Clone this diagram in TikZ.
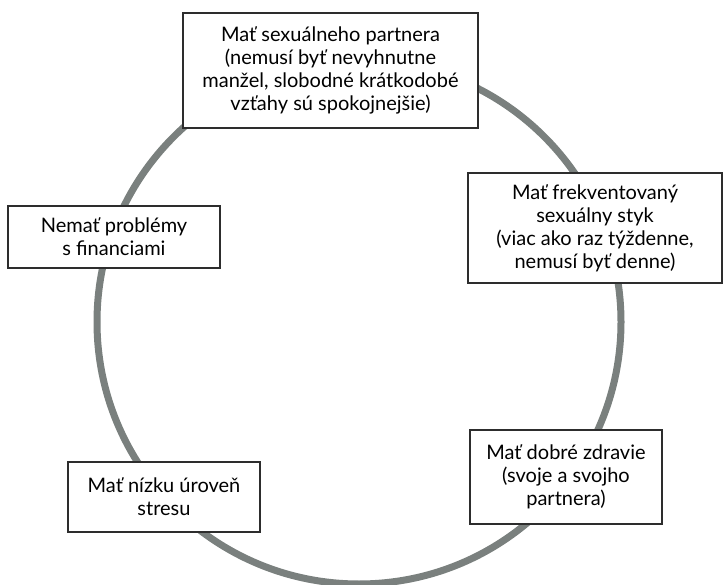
\documentclass[tikz,border=0pt]{standalone}
\usepackage{fontspec}
\setmainfont{Lato}
\usepackage{xcolor}
\definecolor{ColRing}{RGB}{122,128,126}
\definecolor{ColEdge}{RGB}{45,45,45}
\tikzstyle{Ring}=[ColRing,line width=7pt]
\tikzstyle{NodeBox}=[draw=ColEdge,fill=white,line width=1.3pt,inner sep=2pt,
align=center,font=\fontsize{20}{23}\selectfont]

\begin{document}
\begin{tikzpicture}[x=1pt,y=-1pt]
        \useasboundingbox(0,0)rectangle(723,585);
        \draw[Ring](359,322)circle[radius=262pt];
        \node[NodeBox,minimum width=295pt,minimum height=115pt](partner)at(330.5,70.5)
            {Mať sexuálneho partnera\\(nemusí byť nevyhnutne\\manžel, slobodné krátkodobé\\vzťahy sú spokojnejšie)};
        \node[NodeBox,minimum width=254pt,minimum height=110pt](styk)at(595,228)
            {Mať frekventovaný\\sexuálny styk\\(viac ako raz týždenne,\\nemusí byť denne)};
        \node[NodeBox,minimum width=212pt,minimum height=62pt](financie)at(114,237)
            {Nemať problémy\\s financiami};
        \node[NodeBox,minimum width=192pt,minimum height=70pt](stres)at(164,497)
            {Mať nízku úroveň\\stresu};
        \node[NodeBox,minimum width=192pt,minimum height=94pt](zdravie)at(566,477)
            {Mať dobré zdravie\\(svoje a svojho\\partnera)};
    \end{tikzpicture}
\end{document}
